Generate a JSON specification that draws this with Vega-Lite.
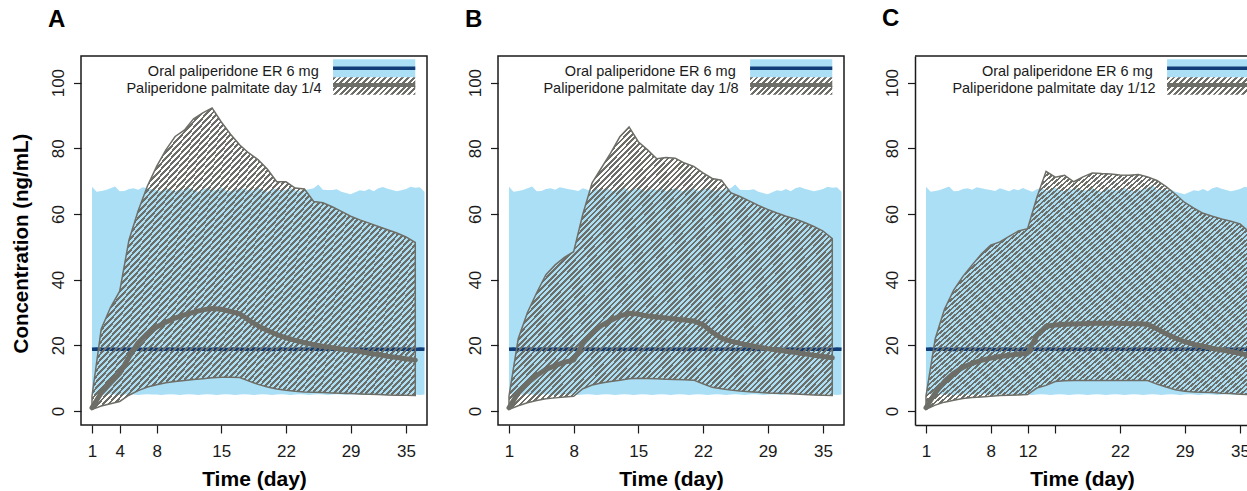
{
"$schema": "https://vega.github.io/schema/vega-lite/v6.json",
"background": "white",
"padding": {"left": 10, "top": 7, "right": 0, "bottom": 0},
"autosize": {"type": "pad"},
"spacing": 71,
"bounds": "flush",
"datasets": {
"oral": [
{"day":1,"lo":5.0,"hi":68.3,"med":18.8},{"day":1.5,"lo":5.1,"hi":66.8,"med":18.9},{"day":2,"lo":4.9,"hi":67.0,"med":18.7},{"day":2.5,"lo":5.0,"hi":67.3,"med":18.8},{"day":3,"lo":5.1,"hi":67.8,"med":18.9},{"day":3.5,"lo":5.0,"hi":68.4,"med":18.8},{"day":4,"lo":4.9,"hi":66.9,"med":18.7},{"day":4.5,"lo":5.0,"hi":67.0,"med":18.9},{"day":5,"lo":5.1,"hi":67.6,"med":18.8},{"day":5.5,"lo":5.0,"hi":67.8,"med":18.8},{"day":6,"lo":4.9,"hi":67.4,"med":18.9},{"day":6.5,"lo":5.0,"hi":68.1,"med":18.7},{"day":7,"lo":5.1,"hi":67.8,"med":18.8},{"day":7.5,"lo":5.0,"hi":67.5,"med":18.9},{"day":8,"lo":5.0,"hi":67.3,"med":18.8},{"day":8.5,"lo":4.9,"hi":67.0,"med":18.7},{"day":9,"lo":5.0,"hi":67.8,"med":18.8},{"day":9.5,"lo":5.1,"hi":67.4,"med":18.9},{"day":10,"lo":5.0,"hi":66.9,"med":18.8},{"day":10.5,"lo":4.9,"hi":67.6,"med":18.8},{"day":11,"lo":5.0,"hi":67.2,"med":18.7},{"day":11.5,"lo":5.1,"hi":67.9,"med":18.9},{"day":12,"lo":5.0,"hi":67.3,"med":18.8},{"day":12.5,"lo":4.9,"hi":66.8,"med":18.8},{"day":13,"lo":5.0,"hi":67.5,"med":18.9},{"day":13.5,"lo":5.1,"hi":67.9,"med":18.7},{"day":14,"lo":5.0,"hi":67.1,"med":18.8},{"day":14.5,"lo":4.9,"hi":67.4,"med":18.9},{"day":15,"lo":5.0,"hi":68.0,"med":18.8},{"day":15.5,"lo":5.1,"hi":67.2,"med":18.7},{"day":16,"lo":5.0,"hi":66.9,"med":18.8},{"day":16.5,"lo":4.9,"hi":67.6,"med":18.9},{"day":17,"lo":5.0,"hi":67.3,"med":18.8},{"day":17.5,"lo":5.1,"hi":67.8,"med":18.8},{"day":18,"lo":5.0,"hi":67.0,"med":18.7},{"day":18.5,"lo":4.9,"hi":67.4,"med":18.9},{"day":19,"lo":5.0,"hi":67.9,"med":18.8},{"day":19.5,"lo":5.1,"hi":67.2,"med":18.8},{"day":20,"lo":5.0,"hi":66.8,"med":18.9},{"day":20.5,"lo":4.9,"hi":67.5,"med":18.7},{"day":21,"lo":5.0,"hi":67.7,"med":18.8},{"day":21.5,"lo":5.1,"hi":67.1,"med":18.9},{"day":22,"lo":5.0,"hi":67.4,"med":18.8},{"day":22.5,"lo":4.9,"hi":67.9,"med":18.8},{"day":23,"lo":5.0,"hi":67.2,"med":18.7},{"day":23.5,"lo":5.1,"hi":67.0,"med":18.9},{"day":24,"lo":5.0,"hi":67.3,"med":18.8},{"day":24.5,"lo":4.9,"hi":67.5,"med":18.8},{"day":25,"lo":5.0,"hi":67.8,"med":18.9},{"day":25.5,"lo":5.1,"hi":69.0,"med":18.7},{"day":26,"lo":5.0,"hi":67.4,"med":18.8},{"day":26.5,"lo":4.9,"hi":67.3,"med":18.9},{"day":27,"lo":5.0,"hi":67.3,"med":18.8},{"day":27.5,"lo":5.1,"hi":67.5,"med":18.8},{"day":28,"lo":5.0,"hi":66.8,"med":18.7},{"day":28.5,"lo":4.9,"hi":66.4,"med":18.9},{"day":29,"lo":5.0,"hi":66.0,"med":18.8},{"day":29.5,"lo":5.1,"hi":66.6,"med":18.8},{"day":30,"lo":5.0,"hi":67.2,"med":18.9},{"day":30.5,"lo":4.9,"hi":67.0,"med":18.7},{"day":31,"lo":5.0,"hi":67.6,"med":18.8},{"day":31.5,"lo":5.1,"hi":66.9,"med":18.9},{"day":32,"lo":5.0,"hi":67.8,"med":18.8},{"day":32.5,"lo":4.9,"hi":68.2,"med":18.8},{"day":33,"lo":5.0,"hi":67.7,"med":18.7},{"day":33.5,"lo":5.1,"hi":67.3,"med":18.9},{"day":34,"lo":5.0,"hi":66.9,"med":18.8},{"day":34.5,"lo":4.9,"hi":67.2,"med":18.8},{"day":35,"lo":5.0,"hi":67.6,"med":18.9},{"day":35.5,"lo":5.1,"hi":68.3,"med":18.8},{"day":36,"lo":5.0,"hi":68.0,"med":18.7},{"day":36.5,"lo":4.9,"hi":68.1,"med":18.9},{"day":37,"lo":5.0,"hi":66.8,"med":18.8}
],
"ppA": [
{"day":1,"lo":0.5,"hi":4.5,"med":1.0},{"day":2,"lo":1.5,"hi":25,"med":5.5},{"day":3,"lo":2.2,"hi":31.5,"med":8.5},{"day":4,"lo":2.9,"hi":36.5,"med":11.5},{"day":5,"lo":4.8,"hi":52,"med":16.4},{"day":6,"lo":6.2,"hi":61,"med":20.8},{"day":7,"lo":7.3,"hi":68.5,"med":23.6},{"day":8,"lo":8.0,"hi":74.5,"med":25.6},{"day":9,"lo":8.6,"hi":79.5,"med":27.0},{"day":10,"lo":9.0,"hi":83.6,"med":28.3},{"day":11,"lo":9.3,"hi":85.5,"med":29.3},{"day":12,"lo":9.6,"hi":89,"med":30.1},{"day":13,"lo":9.8,"hi":90.8,"med":30.8},{"day":14,"lo":10.1,"hi":92.3,"med":31.2},{"day":15,"lo":10.3,"hi":88,"med":31.0},{"day":16,"lo":10.3,"hi":84.3,"med":30.3},{"day":17,"lo":10.2,"hi":81,"med":29.6},{"day":18,"lo":9.1,"hi":78.5,"med":27.6},{"day":19,"lo":8.1,"hi":76.5,"med":25.9},{"day":20,"lo":7.3,"hi":73.6,"med":24.5},{"day":21,"lo":6.7,"hi":69.8,"med":23.3},{"day":22,"lo":6.3,"hi":69.8,"med":22.3},{"day":23,"lo":6.0,"hi":67.9,"med":21.5},{"day":24,"lo":5.8,"hi":67.6,"med":20.8},{"day":25,"lo":5.7,"hi":63.8,"med":20.2},{"day":26,"lo":5.6,"hi":63.4,"med":19.7},{"day":27,"lo":5.5,"hi":62.2,"med":19.3},{"day":28,"lo":5.4,"hi":60.8,"med":18.9},{"day":29,"lo":5.3,"hi":59.3,"med":18.5},{"day":30,"lo":5.2,"hi":58.2,"med":18.1},{"day":31,"lo":5.1,"hi":57.2,"med":17.6},{"day":32,"lo":5.0,"hi":56.2,"med":17.2},{"day":33,"lo":4.9,"hi":55.2,"med":16.7},{"day":34,"lo":4.8,"hi":54.2,"med":16.3},{"day":35,"lo":4.8,"hi":53,"med":15.9},{"day":36,"lo":4.7,"hi":51.3,"med":15.5}
],
"ppB": [
{"day":1,"lo":0.5,"hi":4.5,"med":1.0},{"day":2,"lo":1.6,"hi":22,"med":5.5},{"day":3,"lo":2.5,"hi":30,"med":8.5},{"day":4,"lo":3.2,"hi":36,"med":10.8},{"day":5,"lo":3.7,"hi":41.5,"med":12.7},{"day":6,"lo":4.0,"hi":44.5,"med":13.8},{"day":7,"lo":4.3,"hi":46.8,"med":14.9},{"day":8,"lo":4.5,"hi":48.5,"med":15.5},{"day":9,"lo":6.8,"hi":60,"med":20.5},{"day":10,"lo":7.9,"hi":69.5,"med":23.8},{"day":11,"lo":8.5,"hi":74,"med":26.0},{"day":12,"lo":9.0,"hi":78.5,"med":27.6},{"day":13,"lo":9.4,"hi":83.5,"med":28.9},{"day":14,"lo":9.8,"hi":86.5,"med":29.8},{"day":15,"lo":10.0,"hi":82,"med":29.5},{"day":16,"lo":9.9,"hi":79.5,"med":28.9},{"day":17,"lo":9.8,"hi":76.8,"med":28.6},{"day":18,"lo":9.7,"hi":77.2,"med":28.3},{"day":19,"lo":9.6,"hi":77,"med":28.0},{"day":20,"lo":9.5,"hi":75.5,"med":27.7},{"day":21,"lo":9.4,"hi":74.5,"med":27.4},{"day":22,"lo":8.3,"hi":72.5,"med":26.3},{"day":23,"lo":7.2,"hi":70.8,"med":24.0},{"day":24,"lo":6.8,"hi":70.3,"med":22.2},{"day":25,"lo":6.4,"hi":66.5,"med":21.3},{"day":26,"lo":6.1,"hi":65.3,"med":20.6},{"day":27,"lo":5.9,"hi":64,"med":20.0},{"day":28,"lo":5.7,"hi":62.6,"med":19.5},{"day":29,"lo":5.5,"hi":61.4,"med":19.0},{"day":30,"lo":5.4,"hi":60.3,"med":18.6},{"day":31,"lo":5.3,"hi":59.3,"med":18.2},{"day":32,"lo":5.2,"hi":58.5,"med":17.8},{"day":33,"lo":5.0,"hi":57.4,"med":17.4},{"day":34,"lo":4.9,"hi":56.2,"med":17.0},{"day":35,"lo":4.8,"hi":54.8,"med":16.6},{"day":36,"lo":4.7,"hi":52.5,"med":16.2}
],
"ppC": [
{"day":1,"lo":0.5,"hi":4.5,"med":1.0},{"day":2,"lo":1.8,"hi":22,"med":5.5},{"day":3,"lo":2.7,"hi":31,"med":9.0},{"day":4,"lo":3.3,"hi":36.8,"med":11.5},{"day":5,"lo":3.8,"hi":41,"med":13.3},{"day":6,"lo":4.1,"hi":44.5,"med":14.5},{"day":7,"lo":4.3,"hi":47.8,"med":15.4},{"day":8,"lo":4.5,"hi":50.5,"med":16.1},{"day":9,"lo":4.7,"hi":51.5,"med":16.6},{"day":10,"lo":4.8,"hi":53.2,"med":17.0},{"day":11,"lo":4.9,"hi":54.8,"med":17.3},{"day":12,"lo":5.0,"hi":55.5,"med":17.6},{"day":13,"lo":7.0,"hi":65,"med":23.0},{"day":14,"lo":7.8,"hi":73,"med":25.8},{"day":15,"lo":9.0,"hi":71.2,"med":26.2},{"day":16,"lo":9.2,"hi":71.8,"med":26.4},{"day":17,"lo":9.3,"hi":69.8,"med":26.5},{"day":18,"lo":9.3,"hi":71.3,"med":26.6},{"day":19,"lo":9.3,"hi":72.5,"med":26.7},{"day":20,"lo":9.3,"hi":72.3,"med":26.7},{"day":21,"lo":9.3,"hi":72.2,"med":26.7},{"day":22,"lo":9.3,"hi":71.9,"med":26.7},{"day":23,"lo":9.3,"hi":71.8,"med":26.6},{"day":24,"lo":9.3,"hi":72,"med":26.6},{"day":25,"lo":9.3,"hi":71.3,"med":26.4},{"day":26,"lo":8.2,"hi":70.2,"med":25.0},{"day":27,"lo":7.3,"hi":68.3,"med":23.5},{"day":28,"lo":6.5,"hi":66,"med":22.2},{"day":29,"lo":6.0,"hi":63.5,"med":21.1},{"day":30,"lo":5.8,"hi":61.8,"med":20.3},{"day":31,"lo":5.7,"hi":60.2,"med":19.7},{"day":32,"lo":5.6,"hi":59.3,"med":19.1},{"day":33,"lo":5.4,"hi":58.5,"med":18.6},{"day":34,"lo":5.3,"hi":57.8,"med":18.1},{"day":35,"lo":5.1,"hi":57,"med":17.5},{"day":36,"lo":5.0,"hi":54.5,"med":17.0}
]
},
"hconcat": [
{
"width": 346, "height": 369,
"title": "A",
"layer": [
{"data": {"name": "oral"}, "mark": {"type": "area", "fill": "#abdff6", "stroke": null},
 "encoding": {
  "x": {"field": "day", "type": "quantitative", "scale": {"domain": [-0.19, 37.27], "nice": false, "zero": false}, "axis": {"values": [1, 4, 8, 15, 22, 29, 35], "title": "Time (day)"}},
  "y": {"field": "hi", "type": "quantitative", "scale": {"domain": [-4.26, 108.1], "nice": false, "zero": false}, "axis": {"values": [0, 20, 40, 60, 80, 100], "title": "Concentration (ng/mL)"}},
  "y2": {"field": "lo"}}},
{"data": {"name": "oral"}, "mark": {"type": "line", "color": "#103c78", "strokeWidth": 3.5}, "encoding": {"x": {"field": "day", "type": "quantitative"}, "y": {"field": "med", "type": "quantitative"}}},
{"data": {"name": "ppA"}, "mark": {"type": "area", "stroke": "#6d6e67", "strokeWidth": 1.5}, "encoding": {"x": {"field": "day", "type": "quantitative"}, "y": {"field": "hi", "type": "quantitative"}, "y2": {"field": "lo"}}},
{"data": {"name": "ppA"}, "mark": {"type": "line", "color": "#6d6e67", "strokeWidth": 5, "strokeCap": "round", "strokeJoin": "round"}, "encoding": {"x": {"field": "day", "type": "quantitative"}, "y": {"field": "med", "type": "quantitative"}}},
{"data": {"values": [{}]}, "mark": {"type": "rect", "fill": "#abdff6"}, "encoding": {"x": {"datum": 27.1}, "x2": {"datum": 36.0}, "y": {"datum": 107.1}, "y2": {"datum": 101.6}}},
{"data": {"values": [{}]}, "mark": {"type": "rule", "color": "#103c78", "strokeWidth": 3.5}, "encoding": {"x": {"datum": 27.1}, "x2": {"datum": 36.0}, "y": {"datum": 104.4}}},
{"data": {"values": [{}]}, "mark": {"type": "rect"}, "encoding": {"x": {"datum": 27.1}, "x2": {"datum": 36.0}, "y": {"datum": 101.6}, "y2": {"datum": 96.3}}},
{"data": {"values": [{}]}, "mark": {"type": "rule", "color": "#6d6e67", "strokeWidth": 4}, "encoding": {"x": {"datum": 27.1}, "x2": {"datum": 36.0}, "y": {"datum": 99.3}}},
{"data": {"values": [{}]}, "mark": {"type": "text", "text": "Oral paliperidone ER 6 mg", "align": "right", "baseline": "alphabetic", "fontSize": 14.5, "color": "#1a1a1a"}, "encoding": {"x": {"datum": 25.55}, "y": {"datum": 102.1}}},
{"data": {"values": [{}]}, "mark": {"type": "text", "text": "Paliperidone palmitate day 1/4", "align": "right", "baseline": "alphabetic", "fontSize": 14.5, "color": "#1a1a1a"}, "encoding": {"x": {"datum": 25.85}, "y": {"datum": 96.9}}}
]
},
{
"width": 346, "height": 369,
"title": "B",
"layer": [
{"data": {"name": "oral"}, "mark": {"type": "area", "fill": "#abdff6", "stroke": null},
 "encoding": {
  "x": {"field": "day", "type": "quantitative", "scale": {"domain": [-0.19, 37.27], "nice": false, "zero": false}, "axis": {"values": [1, 8, 15, 22, 29, 35], "title": "Time (day)"}},
  "y": {"field": "hi", "type": "quantitative", "scale": {"domain": [-4.26, 108.1], "nice": false, "zero": false}, "axis": {"values": [0, 20, 40, 60, 80, 100], "title": null}},
  "y2": {"field": "lo"}}},
{"data": {"name": "oral"}, "mark": {"type": "line", "color": "#103c78", "strokeWidth": 3.5}, "encoding": {"x": {"field": "day", "type": "quantitative"}, "y": {"field": "med", "type": "quantitative"}}},
{"data": {"name": "ppB"}, "mark": {"type": "area", "stroke": "#6d6e67", "strokeWidth": 1.5}, "encoding": {"x": {"field": "day", "type": "quantitative"}, "y": {"field": "hi", "type": "quantitative"}, "y2": {"field": "lo"}}},
{"data": {"name": "ppB"}, "mark": {"type": "line", "color": "#6d6e67", "strokeWidth": 5, "strokeCap": "round", "strokeJoin": "round"}, "encoding": {"x": {"field": "day", "type": "quantitative"}, "y": {"field": "med", "type": "quantitative"}}},
{"data": {"values": [{}]}, "mark": {"type": "rect", "fill": "#abdff6"}, "encoding": {"x": {"datum": 27.1}, "x2": {"datum": 36.0}, "y": {"datum": 107.1}, "y2": {"datum": 101.6}}},
{"data": {"values": [{}]}, "mark": {"type": "rule", "color": "#103c78", "strokeWidth": 3.5}, "encoding": {"x": {"datum": 27.1}, "x2": {"datum": 36.0}, "y": {"datum": 104.4}}},
{"data": {"values": [{}]}, "mark": {"type": "rect"}, "encoding": {"x": {"datum": 27.1}, "x2": {"datum": 36.0}, "y": {"datum": 101.6}, "y2": {"datum": 96.3}}},
{"data": {"values": [{}]}, "mark": {"type": "rule", "color": "#6d6e67", "strokeWidth": 4}, "encoding": {"x": {"datum": 27.1}, "x2": {"datum": 36.0}, "y": {"datum": 99.3}}},
{"data": {"values": [{}]}, "mark": {"type": "text", "text": "Oral paliperidone ER 6 mg", "align": "right", "baseline": "alphabetic", "fontSize": 14.5, "color": "#1a1a1a"}, "encoding": {"x": {"datum": 25.55}, "y": {"datum": 102.1}}},
{"data": {"values": [{}]}, "mark": {"type": "text", "text": "Paliperidone palmitate day 1/8", "align": "right", "baseline": "alphabetic", "fontSize": 14.5, "color": "#1a1a1a"}, "encoding": {"x": {"datum": 25.85}, "y": {"datum": 96.9}}}
]
},
{
"width": 334, "height": 369,
"title": "C",
"view": {"stroke": null},
"layer": [
{"data": {"name": "oral"}, "mark": {"type": "area", "fill": "#abdff6", "stroke": null, "clip": true},
 "encoding": {
  "x": {"field": "day", "type": "quantitative", "scale": {"domain": [-0.19, 35.97], "nice": false, "zero": false}, "axis": {"values": [1, 8, 12, 15, 22, 29, 35], "title": "Time (day)", "labelExpr": "datum.value == 15 ? '' : datum.label", "domain": true, "domainColor": "#1a1a1a", "domainWidth": 1.5}},
  "y": {"field": "hi", "type": "quantitative", "scale": {"domain": [-4.26, 108.1], "nice": false, "zero": false}, "axis": {"values": [0, 20, 40, 60, 80, 100], "title": null, "domain": true, "domainColor": "#1a1a1a", "domainWidth": 1.5}},
  "y2": {"field": "lo"}}},
{"data": {"name": "oral"}, "mark": {"type": "line", "color": "#103c78", "strokeWidth": 3.5, "clip": true}, "encoding": {"x": {"field": "day", "type": "quantitative"}, "y": {"field": "med", "type": "quantitative"}}},
{"data": {"name": "ppC"}, "mark": {"type": "area", "stroke": "#6d6e67", "strokeWidth": 1.5, "clip": true}, "encoding": {"x": {"field": "day", "type": "quantitative"}, "y": {"field": "hi", "type": "quantitative"}, "y2": {"field": "lo"}}},
{"data": {"name": "ppC"}, "mark": {"type": "line", "color": "#6d6e67", "strokeWidth": 5, "strokeCap": "round", "strokeJoin": "round", "clip": true}, "encoding": {"x": {"field": "day", "type": "quantitative"}, "y": {"field": "med", "type": "quantitative"}}},
{"data": {"values": [{}]}, "mark": {"type": "rect", "fill": "#abdff6", "clip": true}, "encoding": {"x": {"datum": 27.1}, "x2": {"datum": 36.0}, "y": {"datum": 107.1}, "y2": {"datum": 101.6}}},
{"data": {"values": [{}]}, "mark": {"type": "rule", "color": "#103c78", "strokeWidth": 3.5, "clip": true}, "encoding": {"x": {"datum": 27.1}, "x2": {"datum": 36.0}, "y": {"datum": 104.4}}},
{"data": {"values": [{}]}, "mark": {"type": "rect", "clip": true}, "encoding": {"x": {"datum": 27.1}, "x2": {"datum": 36.0}, "y": {"datum": 101.6}, "y2": {"datum": 96.3}}},
{"data": {"values": [{}]}, "mark": {"type": "rule", "color": "#6d6e67", "strokeWidth": 4, "clip": true}, "encoding": {"x": {"datum": 27.1}, "x2": {"datum": 36.0}, "y": {"datum": 99.3}}},
{"data": {"values": [{}]}, "mark": {"type": "rule", "color": "#1a1a1a", "strokeWidth": 1.5}, "encoding": {"y": {"datum": 108.1}}},
{"data": {"values": [{}]}, "mark": {"type": "text", "text": "Oral paliperidone ER 6 mg", "align": "right", "baseline": "alphabetic", "fontSize": 14.5, "color": "#1a1a1a"}, "encoding": {"x": {"datum": 25.55}, "y": {"datum": 102.1}}},
{"data": {"values": [{}]}, "mark": {"type": "text", "text": "Paliperidone palmitate day 1/12", "align": "right", "baseline": "alphabetic", "fontSize": 14.5, "color": "#1a1a1a"}, "encoding": {"x": {"datum": 25.85}, "y": {"datum": 96.9}}}
]
}
],
"config": {
"font": "Liberation Sans",
"view": {"stroke": "#1a1a1a", "strokeWidth": 1.5},
"title": {"anchor": "start", "frame": "group", "dx": -33, "offset": 24, "baseline": "alphabetic", "fontSize": 24, "fontWeight": "bold", "font": "Liberation Sans", "color": "#000"},
"text": {"font": "Liberation Sans"},
"axis": {"grid": false, "domain": false, "tickColor": "#1a1a1a", "tickWidth": 1.2, "labelColor": "#1a1a1a", "labelFont": "Liberation Sans", "labelFontSize": 17, "titleFont": "Liberation Sans", "titleFontWeight": "bold", "titleColor": "#000", "labelFlush": false, "labelOverlap": false},
"axisX": {"tickSize": 8, "labelPadding": 10, "titleFontSize": 21, "titleBaseline": "alphabetic", "titleY": 60, "labelAngle": 0},
"axisY": {"tickSize": 7.5, "labelPadding": 9.8, "labelAngle": 270, "labelAlign": "center", "labelBaseline": "alphabetic", "titleFontSize": 20.5, "titleAngle": 270, "titleBaseline": "alphabetic", "titleAlign": "center", "titleX": -54, "titleY": 187},
"rect": {"fill": {"gradient": "linear", "x1": 0, "y1": 0, "x2": 1.16, "y2": 0.246, "stops": [
{"offset":0,"color":"#6d6e67"},
{"offset":0.0286,"color":"#6d6e67"},{"offset":0.0286,"color":"transparent"},
{"offset":0.0572,"color":"transparent"},{"offset":0.0572,"color":"#6d6e67"},
{"offset":0.0858,"color":"#6d6e67"},{"offset":0.0858,"color":"transparent"},
{"offset":0.1144,"color":"transparent"},{"offset":0.1144,"color":"#6d6e67"},
{"offset":0.143,"color":"#6d6e67"},{"offset":0.143,"color":"transparent"},
{"offset":0.1716,"color":"transparent"},{"offset":0.1716,"color":"#6d6e67"},
{"offset":0.2002,"color":"#6d6e67"},{"offset":0.2002,"color":"transparent"},
{"offset":0.2288,"color":"transparent"},{"offset":0.2288,"color":"#6d6e67"},
{"offset":0.2574,"color":"#6d6e67"},{"offset":0.2574,"color":"transparent"},
{"offset":0.286,"color":"transparent"},{"offset":0.286,"color":"#6d6e67"},
{"offset":0.3146,"color":"#6d6e67"},{"offset":0.3146,"color":"transparent"},
{"offset":0.3432,"color":"transparent"},{"offset":0.3432,"color":"#6d6e67"},
{"offset":0.3718,"color":"#6d6e67"},{"offset":0.3718,"color":"transparent"},
{"offset":0.4004,"color":"transparent"},{"offset":0.4004,"color":"#6d6e67"},
{"offset":0.429,"color":"#6d6e67"},{"offset":0.429,"color":"transparent"},
{"offset":0.4576,"color":"transparent"},{"offset":0.4576,"color":"#6d6e67"},
{"offset":0.4862,"color":"#6d6e67"},{"offset":0.4862,"color":"transparent"},
{"offset":0.5148,"color":"transparent"},{"offset":0.5148,"color":"#6d6e67"},
{"offset":0.5434,"color":"#6d6e67"},{"offset":0.5434,"color":"transparent"},
{"offset":0.572,"color":"transparent"},{"offset":0.572,"color":"#6d6e67"},
{"offset":0.6006,"color":"#6d6e67"},{"offset":0.6006,"color":"transparent"},
{"offset":0.6292,"color":"transparent"},{"offset":0.6292,"color":"#6d6e67"},
{"offset":0.6578,"color":"#6d6e67"},{"offset":0.6578,"color":"transparent"},
{"offset":0.6864,"color":"transparent"},{"offset":0.6864,"color":"#6d6e67"},
{"offset":0.715,"color":"#6d6e67"},{"offset":0.715,"color":"transparent"},
{"offset":0.7436,"color":"transparent"},{"offset":0.7436,"color":"#6d6e67"},
{"offset":0.7722,"color":"#6d6e67"},{"offset":0.7722,"color":"transparent"},
{"offset":0.8008,"color":"transparent"},{"offset":0.8008,"color":"#6d6e67"},
{"offset":0.8294,"color":"#6d6e67"},{"offset":0.8294,"color":"transparent"},
{"offset":0.858,"color":"transparent"},{"offset":0.858,"color":"#6d6e67"},
{"offset":0.8866,"color":"#6d6e67"},{"offset":0.8866,"color":"transparent"},
{"offset":0.9152,"color":"transparent"},{"offset":0.9152,"color":"#6d6e67"},
{"offset":0.9438,"color":"#6d6e67"},{"offset":0.9438,"color":"transparent"},
{"offset":0.9724,"color":"transparent"},{"offset":0.9724,"color":"#6d6e67"}
]}},
"area": {"fill": {"gradient": "linear", "x1": 0, "y1": 0, "x2": 1.074, "y2": 0.913, "stops": [
{"offset":0,"color":"#6d6e67"},
{"offset":0.0045,"color":"#6d6e67"},{"offset":0.0045,"color":"transparent"},
{"offset":0.009,"color":"transparent"},{"offset":0.009,"color":"#6d6e67"},
{"offset":0.0135,"color":"#6d6e67"},{"offset":0.0135,"color":"transparent"},
{"offset":0.018,"color":"transparent"},{"offset":0.018,"color":"#6d6e67"},
{"offset":0.0225,"color":"#6d6e67"},{"offset":0.0225,"color":"transparent"},
{"offset":0.027,"color":"transparent"},{"offset":0.027,"color":"#6d6e67"},
{"offset":0.0315,"color":"#6d6e67"},{"offset":0.0315,"color":"transparent"},
{"offset":0.036,"color":"transparent"},{"offset":0.036,"color":"#6d6e67"},
{"offset":0.0405,"color":"#6d6e67"},{"offset":0.0405,"color":"transparent"},
{"offset":0.045,"color":"transparent"},{"offset":0.045,"color":"#6d6e67"},
{"offset":0.0495,"color":"#6d6e67"},{"offset":0.0495,"color":"transparent"},
{"offset":0.054,"color":"transparent"},{"offset":0.054,"color":"#6d6e67"},
{"offset":0.0585,"color":"#6d6e67"},{"offset":0.0585,"color":"transparent"},
{"offset":0.063,"color":"transparent"},{"offset":0.063,"color":"#6d6e67"},
{"offset":0.0675,"color":"#6d6e67"},{"offset":0.0675,"color":"transparent"},
{"offset":0.072,"color":"transparent"},{"offset":0.072,"color":"#6d6e67"},
{"offset":0.0765,"color":"#6d6e67"},{"offset":0.0765,"color":"transparent"},
{"offset":0.081,"color":"transparent"},{"offset":0.081,"color":"#6d6e67"},
{"offset":0.0855,"color":"#6d6e67"},{"offset":0.0855,"color":"transparent"},
{"offset":0.09,"color":"transparent"},{"offset":0.09,"color":"#6d6e67"},
{"offset":0.0945,"color":"#6d6e67"},{"offset":0.0945,"color":"transparent"},
{"offset":0.099,"color":"transparent"},{"offset":0.099,"color":"#6d6e67"},
{"offset":0.1035,"color":"#6d6e67"},{"offset":0.1035,"color":"transparent"},
{"offset":0.108,"color":"transparent"},{"offset":0.108,"color":"#6d6e67"},
{"offset":0.1125,"color":"#6d6e67"},{"offset":0.1125,"color":"transparent"},
{"offset":0.117,"color":"transparent"},{"offset":0.117,"color":"#6d6e67"},
{"offset":0.1215,"color":"#6d6e67"},{"offset":0.1215,"color":"transparent"},
{"offset":0.126,"color":"transparent"},{"offset":0.126,"color":"#6d6e67"},
{"offset":0.1305,"color":"#6d6e67"},{"offset":0.1305,"color":"transparent"},
{"offset":0.135,"color":"transparent"},{"offset":0.135,"color":"#6d6e67"},
{"offset":0.1395,"color":"#6d6e67"},{"offset":0.1395,"color":"transparent"},
{"offset":0.144,"color":"transparent"},{"offset":0.144,"color":"#6d6e67"},
{"offset":0.1485,"color":"#6d6e67"},{"offset":0.1485,"color":"transparent"},
{"offset":0.153,"color":"transparent"},{"offset":0.153,"color":"#6d6e67"},
{"offset":0.1575,"color":"#6d6e67"},{"offset":0.1575,"color":"transparent"},
{"offset":0.162,"color":"transparent"},{"offset":0.162,"color":"#6d6e67"},
{"offset":0.1665,"color":"#6d6e67"},{"offset":0.1665,"color":"transparent"},
{"offset":0.171,"color":"transparent"},{"offset":0.171,"color":"#6d6e67"},
{"offset":0.1755,"color":"#6d6e67"},{"offset":0.1755,"color":"transparent"},
{"offset":0.18,"color":"transparent"},{"offset":0.18,"color":"#6d6e67"},
{"offset":0.1845,"color":"#6d6e67"},{"offset":0.1845,"color":"transparent"},
{"offset":0.189,"color":"transparent"},{"offset":0.189,"color":"#6d6e67"},
{"offset":0.1935,"color":"#6d6e67"},{"offset":0.1935,"color":"transparent"},
{"offset":0.198,"color":"transparent"},{"offset":0.198,"color":"#6d6e67"},
{"offset":0.2025,"color":"#6d6e67"},{"offset":0.2025,"color":"transparent"},
{"offset":0.207,"color":"transparent"},{"offset":0.207,"color":"#6d6e67"},
{"offset":0.2115,"color":"#6d6e67"},{"offset":0.2115,"color":"transparent"},
{"offset":0.216,"color":"transparent"},{"offset":0.216,"color":"#6d6e67"},
{"offset":0.2205,"color":"#6d6e67"},{"offset":0.2205,"color":"transparent"},
{"offset":0.225,"color":"transparent"},{"offset":0.225,"color":"#6d6e67"},
{"offset":0.2295,"color":"#6d6e67"},{"offset":0.2295,"color":"transparent"},
{"offset":0.234,"color":"transparent"},{"offset":0.234,"color":"#6d6e67"},
{"offset":0.2385,"color":"#6d6e67"},{"offset":0.2385,"color":"transparent"},
{"offset":0.243,"color":"transparent"},{"offset":0.243,"color":"#6d6e67"},
{"offset":0.2475,"color":"#6d6e67"},{"offset":0.2475,"color":"transparent"},
{"offset":0.252,"color":"transparent"},{"offset":0.252,"color":"#6d6e67"},
{"offset":0.2565,"color":"#6d6e67"},{"offset":0.2565,"color":"transparent"},
{"offset":0.261,"color":"transparent"},{"offset":0.261,"color":"#6d6e67"},
{"offset":0.2655,"color":"#6d6e67"},{"offset":0.2655,"color":"transparent"},
{"offset":0.27,"color":"transparent"},{"offset":0.27,"color":"#6d6e67"},
{"offset":0.2745,"color":"#6d6e67"},{"offset":0.2745,"color":"transparent"},
{"offset":0.279,"color":"transparent"},{"offset":0.279,"color":"#6d6e67"},
{"offset":0.2835,"color":"#6d6e67"},{"offset":0.2835,"color":"transparent"},
{"offset":0.288,"color":"transparent"},{"offset":0.288,"color":"#6d6e67"},
{"offset":0.2925,"color":"#6d6e67"},{"offset":0.2925,"color":"transparent"},
{"offset":0.297,"color":"transparent"},{"offset":0.297,"color":"#6d6e67"},
{"offset":0.3015,"color":"#6d6e67"},{"offset":0.3015,"color":"transparent"},
{"offset":0.306,"color":"transparent"},{"offset":0.306,"color":"#6d6e67"},
{"offset":0.3105,"color":"#6d6e67"},{"offset":0.3105,"color":"transparent"},
{"offset":0.315,"color":"transparent"},{"offset":0.315,"color":"#6d6e67"},
{"offset":0.3195,"color":"#6d6e67"},{"offset":0.3195,"color":"transparent"},
{"offset":0.324,"color":"transparent"},{"offset":0.324,"color":"#6d6e67"},
{"offset":0.3285,"color":"#6d6e67"},{"offset":0.3285,"color":"transparent"},
{"offset":0.333,"color":"transparent"},{"offset":0.333,"color":"#6d6e67"},
{"offset":0.3375,"color":"#6d6e67"},{"offset":0.3375,"color":"transparent"},
{"offset":0.342,"color":"transparent"},{"offset":0.342,"color":"#6d6e67"},
{"offset":0.3465,"color":"#6d6e67"},{"offset":0.3465,"color":"transparent"},
{"offset":0.351,"color":"transparent"},{"offset":0.351,"color":"#6d6e67"},
{"offset":0.3555,"color":"#6d6e67"},{"offset":0.3555,"color":"transparent"},
{"offset":0.36,"color":"transparent"},{"offset":0.36,"color":"#6d6e67"},
{"offset":0.3645,"color":"#6d6e67"},{"offset":0.3645,"color":"transparent"},
{"offset":0.369,"color":"transparent"},{"offset":0.369,"color":"#6d6e67"},
{"offset":0.3735,"color":"#6d6e67"},{"offset":0.3735,"color":"transparent"},
{"offset":0.378,"color":"transparent"},{"offset":0.378,"color":"#6d6e67"},
{"offset":0.3825,"color":"#6d6e67"},{"offset":0.3825,"color":"transparent"},
{"offset":0.387,"color":"transparent"},{"offset":0.387,"color":"#6d6e67"},
{"offset":0.3915,"color":"#6d6e67"},{"offset":0.3915,"color":"transparent"},
{"offset":0.396,"color":"transparent"},{"offset":0.396,"color":"#6d6e67"},
{"offset":0.4005,"color":"#6d6e67"},{"offset":0.4005,"color":"transparent"},
{"offset":0.405,"color":"transparent"},{"offset":0.405,"color":"#6d6e67"},
{"offset":0.4095,"color":"#6d6e67"},{"offset":0.4095,"color":"transparent"},
{"offset":0.414,"color":"transparent"},{"offset":0.414,"color":"#6d6e67"},
{"offset":0.4185,"color":"#6d6e67"},{"offset":0.4185,"color":"transparent"},
{"offset":0.423,"color":"transparent"},{"offset":0.423,"color":"#6d6e67"},
{"offset":0.4275,"color":"#6d6e67"},{"offset":0.4275,"color":"transparent"},
{"offset":0.432,"color":"transparent"},{"offset":0.432,"color":"#6d6e67"},
{"offset":0.4365,"color":"#6d6e67"},{"offset":0.4365,"color":"transparent"},
{"offset":0.441,"color":"transparent"},{"offset":0.441,"color":"#6d6e67"},
{"offset":0.4455,"color":"#6d6e67"},{"offset":0.4455,"color":"transparent"},
{"offset":0.45,"color":"transparent"},{"offset":0.45,"color":"#6d6e67"},
{"offset":0.4545,"color":"#6d6e67"},{"offset":0.4545,"color":"transparent"},
{"offset":0.459,"color":"transparent"},{"offset":0.459,"color":"#6d6e67"},
{"offset":0.4635,"color":"#6d6e67"},{"offset":0.4635,"color":"transparent"},
{"offset":0.468,"color":"transparent"},{"offset":0.468,"color":"#6d6e67"},
{"offset":0.4725,"color":"#6d6e67"},{"offset":0.4725,"color":"transparent"},
{"offset":0.477,"color":"transparent"},{"offset":0.477,"color":"#6d6e67"},
{"offset":0.4815,"color":"#6d6e67"},{"offset":0.4815,"color":"transparent"},
{"offset":0.486,"color":"transparent"},{"offset":0.486,"color":"#6d6e67"},
{"offset":0.4905,"color":"#6d6e67"},{"offset":0.4905,"color":"transparent"},
{"offset":0.495,"color":"transparent"},{"offset":0.495,"color":"#6d6e67"},
{"offset":0.4995,"color":"#6d6e67"},{"offset":0.4995,"color":"transparent"},
{"offset":0.504,"color":"transparent"},{"offset":0.504,"color":"#6d6e67"},
{"offset":0.5085,"color":"#6d6e67"},{"offset":0.5085,"color":"transparent"},
{"offset":0.513,"color":"transparent"},{"offset":0.513,"color":"#6d6e67"},
{"offset":0.5175,"color":"#6d6e67"},{"offset":0.5175,"color":"transparent"},
{"offset":0.522,"color":"transparent"},{"offset":0.522,"color":"#6d6e67"},
{"offset":0.5265,"color":"#6d6e67"},{"offset":0.5265,"color":"transparent"},
{"offset":0.531,"color":"transparent"},{"offset":0.531,"color":"#6d6e67"},
{"offset":0.5355,"color":"#6d6e67"},{"offset":0.5355,"color":"transparent"},
{"offset":0.54,"color":"transparent"},{"offset":0.54,"color":"#6d6e67"},
{"offset":0.5445,"color":"#6d6e67"},{"offset":0.5445,"color":"transparent"},
{"offset":0.549,"color":"transparent"},{"offset":0.549,"color":"#6d6e67"},
{"offset":0.5535,"color":"#6d6e67"},{"offset":0.5535,"color":"transparent"},
{"offset":0.558,"color":"transparent"},{"offset":0.558,"color":"#6d6e67"},
{"offset":0.5625,"color":"#6d6e67"},{"offset":0.5625,"color":"transparent"},
{"offset":0.567,"color":"transparent"},{"offset":0.567,"color":"#6d6e67"},
{"offset":0.5715,"color":"#6d6e67"},{"offset":0.5715,"color":"transparent"},
{"offset":0.576,"color":"transparent"},{"offset":0.576,"color":"#6d6e67"},
{"offset":0.5805,"color":"#6d6e67"},{"offset":0.5805,"color":"transparent"},
{"offset":0.585,"color":"transparent"},{"offset":0.585,"color":"#6d6e67"},
{"offset":0.5895,"color":"#6d6e67"},{"offset":0.5895,"color":"transparent"},
{"offset":0.594,"color":"transparent"},{"offset":0.594,"color":"#6d6e67"},
{"offset":0.5985,"color":"#6d6e67"},{"offset":0.5985,"color":"transparent"},
{"offset":0.603,"color":"transparent"},{"offset":0.603,"color":"#6d6e67"},
{"offset":0.6075,"color":"#6d6e67"},{"offset":0.6075,"color":"transparent"},
{"offset":0.612,"color":"transparent"},{"offset":0.612,"color":"#6d6e67"},
{"offset":0.6165,"color":"#6d6e67"},{"offset":0.6165,"color":"transparent"},
{"offset":0.621,"color":"transparent"},{"offset":0.621,"color":"#6d6e67"},
{"offset":0.6255,"color":"#6d6e67"},{"offset":0.6255,"color":"transparent"},
{"offset":0.63,"color":"transparent"},{"offset":0.63,"color":"#6d6e67"},
{"offset":0.6345,"color":"#6d6e67"},{"offset":0.6345,"color":"transparent"},
{"offset":0.639,"color":"transparent"},{"offset":0.639,"color":"#6d6e67"},
{"offset":0.6435,"color":"#6d6e67"},{"offset":0.6435,"color":"transparent"},
{"offset":0.648,"color":"transparent"},{"offset":0.648,"color":"#6d6e67"},
{"offset":0.6525,"color":"#6d6e67"},{"offset":0.6525,"color":"transparent"},
{"offset":0.657,"color":"transparent"},{"offset":0.657,"color":"#6d6e67"},
{"offset":0.6615,"color":"#6d6e67"},{"offset":0.6615,"color":"transparent"},
{"offset":0.666,"color":"transparent"},{"offset":0.666,"color":"#6d6e67"},
{"offset":0.6705,"color":"#6d6e67"},{"offset":0.6705,"color":"transparent"},
{"offset":0.675,"color":"transparent"},{"offset":0.675,"color":"#6d6e67"},
{"offset":0.6795,"color":"#6d6e67"},{"offset":0.6795,"color":"transparent"},
{"offset":0.684,"color":"transparent"},{"offset":0.684,"color":"#6d6e67"},
{"offset":0.6885,"color":"#6d6e67"},{"offset":0.6885,"color":"transparent"},
{"offset":0.693,"color":"transparent"},{"offset":0.693,"color":"#6d6e67"},
{"offset":0.6975,"color":"#6d6e67"},{"offset":0.6975,"color":"transparent"},
{"offset":0.702,"color":"transparent"},{"offset":0.702,"color":"#6d6e67"},
{"offset":0.7065,"color":"#6d6e67"},{"offset":0.7065,"color":"transparent"},
{"offset":0.711,"color":"transparent"},{"offset":0.711,"color":"#6d6e67"},
{"offset":0.7155,"color":"#6d6e67"},{"offset":0.7155,"color":"transparent"},
{"offset":0.72,"color":"transparent"},{"offset":0.72,"color":"#6d6e67"},
{"offset":0.7245,"color":"#6d6e67"},{"offset":0.7245,"color":"transparent"},
{"offset":0.729,"color":"transparent"},{"offset":0.729,"color":"#6d6e67"},
{"offset":0.7335,"color":"#6d6e67"},{"offset":0.7335,"color":"transparent"},
{"offset":0.738,"color":"transparent"},{"offset":0.738,"color":"#6d6e67"},
{"offset":0.7425,"color":"#6d6e67"},{"offset":0.7425,"color":"transparent"},
{"offset":0.747,"color":"transparent"},{"offset":0.747,"color":"#6d6e67"},
{"offset":0.7515,"color":"#6d6e67"},{"offset":0.7515,"color":"transparent"},
{"offset":0.756,"color":"transparent"},{"offset":0.756,"color":"#6d6e67"},
{"offset":0.7605,"color":"#6d6e67"},{"offset":0.7605,"color":"transparent"},
{"offset":0.765,"color":"transparent"},{"offset":0.765,"color":"#6d6e67"},
{"offset":0.7695,"color":"#6d6e67"},{"offset":0.7695,"color":"transparent"},
{"offset":0.774,"color":"transparent"},{"offset":0.774,"color":"#6d6e67"},
{"offset":0.7785,"color":"#6d6e67"},{"offset":0.7785,"color":"transparent"},
{"offset":0.783,"color":"transparent"},{"offset":0.783,"color":"#6d6e67"},
{"offset":0.7875,"color":"#6d6e67"},{"offset":0.7875,"color":"transparent"},
{"offset":0.792,"color":"transparent"},{"offset":0.792,"color":"#6d6e67"},
{"offset":0.7965,"color":"#6d6e67"},{"offset":0.7965,"color":"transparent"},
{"offset":0.801,"color":"transparent"},{"offset":0.801,"color":"#6d6e67"},
{"offset":0.8055,"color":"#6d6e67"},{"offset":0.8055,"color":"transparent"},
{"offset":0.81,"color":"transparent"},{"offset":0.81,"color":"#6d6e67"},
{"offset":0.8145,"color":"#6d6e67"},{"offset":0.8145,"color":"transparent"},
{"offset":0.819,"color":"transparent"},{"offset":0.819,"color":"#6d6e67"},
{"offset":0.8235,"color":"#6d6e67"},{"offset":0.8235,"color":"transparent"},
{"offset":0.828,"color":"transparent"},{"offset":0.828,"color":"#6d6e67"},
{"offset":0.8325,"color":"#6d6e67"},{"offset":0.8325,"color":"transparent"},
{"offset":0.837,"color":"transparent"},{"offset":0.837,"color":"#6d6e67"},
{"offset":0.8415,"color":"#6d6e67"},{"offset":0.8415,"color":"transparent"},
{"offset":0.846,"color":"transparent"},{"offset":0.846,"color":"#6d6e67"},
{"offset":0.8505,"color":"#6d6e67"},{"offset":0.8505,"color":"transparent"},
{"offset":0.855,"color":"transparent"},{"offset":0.855,"color":"#6d6e67"},
{"offset":0.8595,"color":"#6d6e67"},{"offset":0.8595,"color":"transparent"},
{"offset":0.864,"color":"transparent"},{"offset":0.864,"color":"#6d6e67"},
{"offset":0.8685,"color":"#6d6e67"},{"offset":0.8685,"color":"transparent"},
{"offset":0.873,"color":"transparent"},{"offset":0.873,"color":"#6d6e67"},
{"offset":0.8775,"color":"#6d6e67"},{"offset":0.8775,"color":"transparent"},
{"offset":0.882,"color":"transparent"},{"offset":0.882,"color":"#6d6e67"},
{"offset":0.8865,"color":"#6d6e67"},{"offset":0.8865,"color":"transparent"},
{"offset":0.891,"color":"transparent"},{"offset":0.891,"color":"#6d6e67"},
{"offset":0.8955,"color":"#6d6e67"},{"offset":0.8955,"color":"transparent"},
{"offset":0.9,"color":"transparent"},{"offset":0.9,"color":"#6d6e67"},
{"offset":0.9045,"color":"#6d6e67"},{"offset":0.9045,"color":"transparent"},
{"offset":0.909,"color":"transparent"},{"offset":0.909,"color":"#6d6e67"},
{"offset":0.9135,"color":"#6d6e67"},{"offset":0.9135,"color":"transparent"},
{"offset":0.918,"color":"transparent"},{"offset":0.918,"color":"#6d6e67"},
{"offset":0.9225,"color":"#6d6e67"},{"offset":0.9225,"color":"transparent"},
{"offset":0.927,"color":"transparent"},{"offset":0.927,"color":"#6d6e67"},
{"offset":0.9315,"color":"#6d6e67"},{"offset":0.9315,"color":"transparent"},
{"offset":0.936,"color":"transparent"},{"offset":0.936,"color":"#6d6e67"},
{"offset":0.9405,"color":"#6d6e67"},{"offset":0.9405,"color":"transparent"},
{"offset":0.945,"color":"transparent"},{"offset":0.945,"color":"#6d6e67"},
{"offset":0.9495,"color":"#6d6e67"},{"offset":0.9495,"color":"transparent"},
{"offset":0.954,"color":"transparent"},{"offset":0.954,"color":"#6d6e67"},
{"offset":0.9585,"color":"#6d6e67"},{"offset":0.9585,"color":"transparent"},
{"offset":0.963,"color":"transparent"},{"offset":0.963,"color":"#6d6e67"},
{"offset":0.9675,"color":"#6d6e67"},{"offset":0.9675,"color":"transparent"},
{"offset":0.972,"color":"transparent"},{"offset":0.972,"color":"#6d6e67"},
{"offset":0.9765,"color":"#6d6e67"},{"offset":0.9765,"color":"transparent"},
{"offset":0.981,"color":"transparent"},{"offset":0.981,"color":"#6d6e67"},
{"offset":0.9855,"color":"#6d6e67"},{"offset":0.9855,"color":"transparent"},
{"offset":0.99,"color":"transparent"},{"offset":0.99,"color":"#6d6e67"},
{"offset":0.9945,"color":"#6d6e67"},{"offset":0.9945,"color":"transparent"}
]}}
}
}
